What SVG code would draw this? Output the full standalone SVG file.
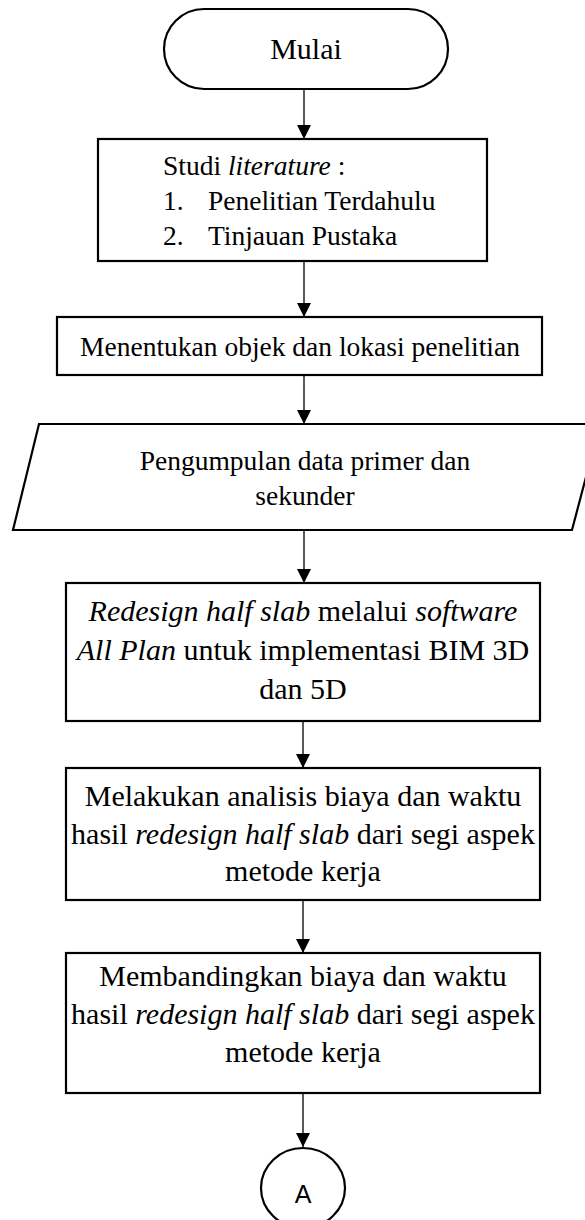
<svg xmlns="http://www.w3.org/2000/svg" width="585" height="1220" viewBox="0 0 585 1220">
<style>
.s{fill:#fff;stroke:#000;stroke-width:2.2}
.t{font-family:"Liberation Serif","Times New Roman",serif;fill:#000}
.m{text-anchor:middle}
.i{font-style:italic}
.c{stroke:#000;stroke-width:1.3;fill:none}
</style>
<defs>
<marker id="ah" markerWidth="14" markerHeight="14" refX="14" refY="7" orient="auto" markerUnits="userSpaceOnUse"><path d="M0,0 L14,7 L0,14 z" fill="#000"/></marker>
</defs>
<rect width="585" height="1220" fill="#fff"/>
<g id="connectors">
<line class="c" x1="304" y1="89" x2="304" y2="139" marker-end="url(#ah)"/>
<line class="c" x1="304" y1="261" x2="304" y2="317" marker-end="url(#ah)"/>
<line class="c" x1="304" y1="375" x2="304" y2="424" marker-end="url(#ah)"/>
<line class="c" x1="304" y1="530" x2="304" y2="583" marker-end="url(#ah)"/>
<line class="c" x1="303" y1="721" x2="303" y2="768" marker-end="url(#ah)"/>
<line class="c" x1="303" y1="900" x2="303" y2="953" marker-end="url(#ah)"/>
<line class="c" x1="303" y1="1093" x2="303" y2="1147" marker-end="url(#ah)"/>
</g>
<g id="mulai">
<rect class="s" x="164" y="9" width="284" height="80" rx="40" ry="40"/>
<text class="t m" x="306" y="59" font-size="30">Mulai</text>
</g>
<g id="studi">
<rect class="s" x="98" y="139" width="389" height="122"/>
<text class="t" x="163" y="175" font-size="27.5">Studi <tspan class="i">literature</tspan> :</text>
<text class="t" x="163" y="210" font-size="27.5">1.</text>
<text class="t" x="208" y="210" font-size="27.5">Penelitian Terdahulu</text>
<text class="t" x="163" y="245" font-size="27.5">2.</text>
<text class="t" x="208" y="245" font-size="27.5">Tinjauan Pustaka</text>
</g>
<g id="menentukan">
<rect class="s" x="57" y="317" width="485" height="58"/>
<text class="t m" x="300" y="356" font-size="27.5">Menentukan objek dan lokasi penelitian</text>
</g>
<g id="pengumpulan">
<polygon class="s" points="39,424 600,424 572,530 13,530"/>
<text class="t m" x="305" y="470" font-size="27.5">Pengumpulan data primer dan</text>
<text class="t m" x="305" y="505" font-size="27.5">sekunder</text>
</g>
<g id="redesign">
<rect class="s" x="66" y="583" width="474" height="138"/>
<text class="t m" x="303" y="621" font-size="30"><tspan class="i">Redesign half slab</tspan> melalui <tspan class="i">software</tspan></text>
<text class="t m" x="303" y="660" font-size="30"><tspan class="i">All Plan</tspan> untuk implementasi BIM 3D</text>
<text class="t m" x="303" y="699" font-size="30">dan 5D</text>
</g>
<g id="melakukan">
<rect class="s" x="66" y="768" width="474" height="132"/>
<text class="t m" x="303" y="806" font-size="30">Melakukan analisis biaya dan waktu</text>
<text class="t m" x="303" y="844" font-size="30">hasil <tspan class="i">redesign half slab</tspan> dari segi aspek</text>
<text class="t m" x="303" y="881" font-size="30">metode kerja</text>
</g>
<g id="membandingkan">
<rect class="s" x="66" y="953" width="474" height="140"/>
<text class="t m" x="303" y="986" font-size="30">Membandingkan biaya dan waktu</text>
<text class="t m" x="303" y="1024" font-size="30">hasil <tspan class="i">redesign half slab</tspan> dari segi aspek</text>
<text class="t m" x="303" y="1062" font-size="30">metode kerja</text>
</g>
<g id="a">
<ellipse class="s" cx="303" cy="1188" rx="42" ry="40"/>
<text x="303" y="1203" font-size="25" text-anchor="middle" font-family="Liberation Sans, Arial, sans-serif">A</text>
</g>
</svg>
